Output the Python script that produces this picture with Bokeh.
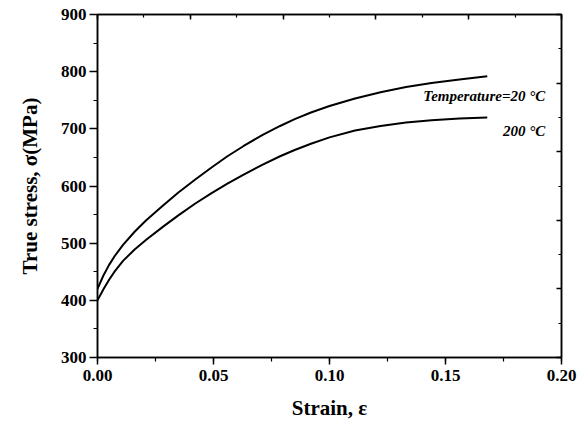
import numpy as np
from bokeh.plotting import figure
from bokeh.models import LinearAxis, FixedTicker, Range1d
from bokeh.core.properties import value
from bokeh.embed import file_html
from bokeh.resources import INLINE

# ---- data ----
strain = [0.0, 0.0025, 0.005, 0.0075, 0.011, 0.016, 0.021, 0.028, 0.035, 0.042, 0.049,
          0.056, 0.063, 0.071, 0.0787, 0.085, 0.092, 0.100, 0.111, 0.122, 0.133, 0.144,
          0.156, 0.168]
stress_20C = [420, 443, 462, 478, 497, 520, 540, 565, 589, 611, 632,
              652, 670, 689, 705, 717, 728.5, 740, 753, 764, 773, 780,
              786.5, 792]
stress_200C = [400, 419, 436, 451, 469, 489, 506, 528, 549, 569, 587,
               604, 620, 637, 652, 663, 674, 685, 697, 705, 711, 715,
               718, 720]
x_ticks = [0.0, 0.05, 0.10, 0.15, 0.20]
x_tick_labels = ["0.00", "0.05", "0.10", "0.15", "0.20"]
y_ticks = [300, 400, 500, 600, 700, 800, 900]
label_20C = "Temperature=20 °C"
label_200C = "200 °C"
x_title = "Strain, ε"
y_title = "True stress, σ(MPa)"

FONT = "Liberation Serif"
x0, x1 = x_ticks[0], x_ticks[-1]
y0, y1 = y_ticks[0], y_ticks[-1]

p = figure(width=584, height=423,
           x_range=Range1d(x0, x1), y_range=Range1d(y0, y1),
           output_backend="svg", toolbar_location=None,
           min_border_left=97, min_border_right=23,
           min_border_top=14, min_border_bottom=66)
p.xgrid.visible = False
p.ygrid.visible = False
p.outline_line_color = "black"
p.outline_line_width = 1.5
p.background_fill_color = "white"
p.border_fill_color = "white"

# bottom axis
xa = p.xaxis[0]
xa.ticker = FixedTicker(ticks=x_ticks,
                        minor_ticks=list(np.arange(x0, x1 + 1e-9, (x_ticks[1] - x_ticks[0]) / 2)))
xa.major_label_overrides = {t: l for t, l in zip(x_ticks, x_tick_labels)}
xa.axis_label = x_title

# left axis
ya = p.yaxis[0]
ya.ticker = FixedTicker(ticks=y_ticks,
                        minor_ticks=list(np.arange(y0, y1 + 1e-9, (y_ticks[1] - y_ticks[0]) / 2)))
ya.axis_label = y_title

for ax in (xa, ya):
    ax.axis_line_color = "black"
    ax.axis_line_width = 1.5
    ax.major_tick_line_color = "black"
    ax.major_tick_line_width = 1.5
    ax.minor_tick_line_color = "black"
    ax.minor_tick_line_width = 1.2
    ax.major_tick_in = 0
    ax.minor_tick_in = 0
    ax.major_label_text_font = FONT
    ax.major_label_text_font_style = "bold"
    ax.major_label_text_font_size = "17px"
    ax.major_label_text_color = "black"
    ax.axis_label_text_font = FONT
    ax.axis_label_text_font_style = "bold"
    ax.axis_label_text_font_size = "21px"
    ax.axis_label_text_color = "black"

xa.major_tick_out = 7
xa.minor_tick_out = 4
xa.major_label_standoff = 5
xa.axis_label_standoff = 12
ya.major_tick_out = 8
ya.minor_tick_out = 4
ya.major_label_standoff = 3
ya.axis_label_standoff = 16

# mirrored top / right axes (inward ticks, no labels)
top_ticks = list(np.linspace(x0, x1, 6))
top_minor = list(np.linspace(x0, x1, 11))
right_ticks = list(np.linspace(y0, y1, 6))
right_minor = list(np.linspace(y0, y1, 11))

top = LinearAxis(ticker=FixedTicker(ticks=top_ticks, minor_ticks=top_minor))
right = LinearAxis(ticker=FixedTicker(ticks=right_ticks, minor_ticks=right_minor))
for ax in (top, right):
    ax.axis_line_color = "black"
    ax.axis_line_width = 1.5
    ax.major_tick_line_color = "black"
    ax.major_tick_line_width = 1.5
    ax.minor_tick_line_color = "black"
    ax.minor_tick_line_width = 1.2
    ax.major_tick_out = 0
    ax.minor_tick_out = 0
    ax.major_tick_in = 5
    ax.minor_tick_in = 3
    ax.major_label_text_font_size = "0px"
    ax.major_label_text_alpha = 0
    ax.major_label_standoff = 0
p.add_layout(top, "above")
p.add_layout(right, "right")

# curves
p.line(strain, stress_20C, line_color="black", line_width=2, line_join="round")
p.line(strain, stress_200C, line_color="black", line_width=2, line_join="round")

# labels placed next to curve ends
p.text(x=[strain[-1] + 0.025], y=[stress_20C[-1] - 34], text=[label_20C],
       text_font=value(FONT), text_font_style="bold italic", text_font_size="15px",
       text_align="right", text_baseline="middle", text_color="black")
p.text(x=[strain[-1] + 0.025], y=[stress_200C[-1] - 23], text=[label_200C],
       text_font=value(FONT), text_font_style="bold italic", text_font_size="15px",
       text_align="right", text_baseline="middle", text_color="black")

open("out.html", "w").write(file_html(p, INLINE))
